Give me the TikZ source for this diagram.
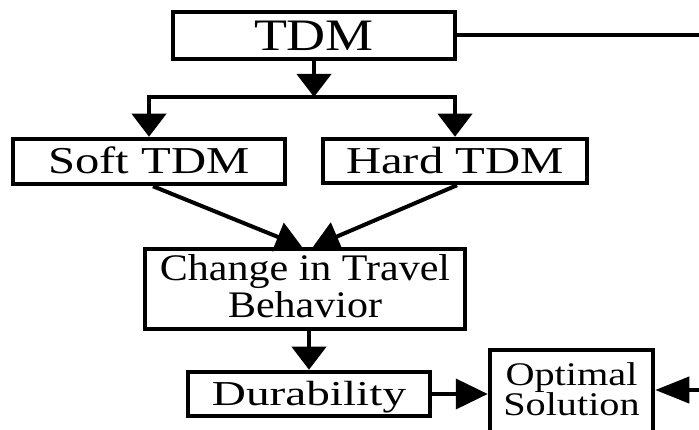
\documentclass[tikz,border=0pt]{standalone}
\usepackage{fontspec}
\setmainfont{Liberation Serif}
\newfontfamily\fTDM[FakeStretch=1.2]{Liberation Serif}
\newfontfamily\fST[FakeStretch=1.28]{Liberation Serif}
\newfontfamily\fCh[FakeStretch=1.12]{Liberation Serif}
\newfontfamily\fDu[FakeStretch=1.35]{Liberation Serif}
\newfontfamily\fOp[FakeStretch=1.22]{Liberation Serif}
\usetikzlibrary{arrows.meta}
\begin{document}
\begin{tikzpicture}[x=1pt,y=-1pt,
  box/.style={draw,line width=4.5pt,inner sep=0pt,align=center},
  oneline/.style={text height=#1,text depth=0pt},
  conn/.style={line width=4pt},
  vtip/.style={-{Triangle[width=34pt,length=23pt]}},
  dtip/.style={-{Triangle[width=30pt,length=26pt]}},
  htip/.style={-{Triangle[width=30pt,length=32pt]}},
  rtip/.style={-{Triangle[width=26pt,length=34pt]}}]
\clip (0,0) rectangle (699,430);
\fill[white] (0,0) rectangle (699,430);
\node[box,oneline=30pt,minimum width=282pt,minimum height=47pt,
      font=\fTDM\fontsize{45}{45}\selectfont] (tdm) at (314,35.5) {TDM};
\node[box,oneline=25pt,minimum width=272pt,minimum height=45pt,
      font=\fST\fontsize{38}{38}\selectfont] (soft) at (149,161.5) {Soft TDM};
\node[box,oneline=25pt,minimum width=264pt,minimum height=44pt,
      font=\fST\fontsize{38}{38}\selectfont] (hard) at (455,161) {Hard TDM};
\node[box,minimum width=320pt,minimum height=80pt,
      font=\fCh\fontsize{37.5}{37}\selectfont] (change) at (305,289) {};
\node[inner sep=0pt,align=center,font=\fCh\fontsize{37.5}{37}\selectfont,
      yshift=3pt] (changetext) at (change.center) {Change in Travel\\Behavior};
\node[box,oneline=23pt,minimum width=242pt,minimum height=44pt,
      font=\fDu\fontsize{35}{35}\selectfont] (dur) at (309,394) {Durability};
\node[box,minimum width=163pt,minimum height=84pt] (opt) at (571.5,392) {};
\node[inner sep=0pt,align=center,font=\fOp\fontsize{33}{30}\selectfont,
      yshift=3pt] (opttext) at (opt.center) {Optimal\\Solution};
\coordinate (b) at (314,97);
\coordinate (t) at (705,35.5);
\coordinate (r) at (705,390);
\draw[conn] (tdm.east) -- (t);
\draw[conn,vtip] (tdm.south) -- (b);
\draw[conn,line cap=rect] (soft.north |- b) -- (hard.north |- b);
\draw[conn,vtip] (soft.north |- b) -- (soft.north);
\draw[conn,vtip] (hard.north |- b) -- (hard.north);
\draw[conn,dtip] ([xshift=4pt]soft.south) -- ([xshift=-3pt]change.north);
\draw[conn,dtip] ([xshift=2pt]hard.south) -- ([xshift=8pt]change.north);
\draw[conn,vtip] (change.south -| dur.north) -- (dur.north);
\draw[conn,htip] (dur.east) -- (dur.east -| opt.west);
\draw[conn,rtip] (r) -- (r -| opt.east);
\end{tikzpicture}
\end{document}
